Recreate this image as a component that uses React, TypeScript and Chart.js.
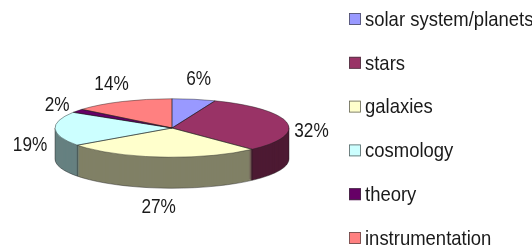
import React, { useEffect, useRef } from "react";
import { Chart, registerables } from "chart.js";

Chart.register(...registerables);

// ---- data ----
const categories = ["solar system/planets", "stars", "galaxies", "cosmology", "theory", "instrumentation"];
const shares = [6, 32, 27, 19, 2, 14];
const percentLabels = ["6%", "32%", "27%", "19%", "2%", "14%"];
const topColors = ["#9999FF", "#993366", "#FFFFCC", "#CCFFFF", "#660066", "#FF8080"];
const sideColors = ["#4D4D80", "#4D1A33", "#808066", "#668080", "#330033", "#804040"];

// ---- style constants ----
const TILT = 0.25;
const DEPTH = 31;
const FONT = "'Liberation Sans', Arial, Helvetica, sans-serif";
const LABEL_SIZE = 20;
const LABEL_SX = 0.86;
const LABEL_GAP_X = 25;
const LABEL_GAP_Y = 20;
const LEGEND_X = 349;
const LEGEND_TOP = 19;
const LEGEND_STEP = 43.8;
const LEGEND_BOX = 12;
const LEGEND_SIZE = 21;
const LEGEND_SX = 0.88;

function drawText(ctx: CanvasRenderingContext2D, text: string, x: number, y: number, size: number, sx: number, align: CanvasTextAlign) {
  ctx.save();
  ctx.translate(x, y);
  ctx.scale(sx, 1);
  ctx.font = `${size}px ${FONT}`;
  ctx.textAlign = align;
  ctx.textBaseline = "middle";
  ctx.fillStyle = "#1a1a1a";
  ctx.fillText(text, 0, 0);
  ctx.restore();
}

const pie3d = {
  id: "pie3d",
  beforeDatasetsDraw(chart: any) {
    const arcs = chart.getDatasetMeta(0).data;
    if (!arcs.length) return;
    const x = arcs[0].x, y = arcs[0].y, R = arcs[0].outerRadius;
    const ctx: CanvasRenderingContext2D = chart.ctx;
    // extruded side
    for (let d = DEPTH; d >= 1; d--) {
      arcs.forEach((a: any, i: number) => {
        ctx.beginPath();
        ctx.moveTo(x, y + d);
        ctx.ellipse(x, y + d, R, R * TILT, 0, a.startAngle, a.endAngle);
        ctx.closePath();
        ctx.fillStyle = sideColors[i];
        ctx.fill();
      });
    }
    // side outlines
    ctx.save();
    ctx.strokeStyle = "rgba(30,30,30,0.55)";
    ctx.lineWidth = 0.8;
    ctx.beginPath();
    ctx.ellipse(x, y + DEPTH, R, R * TILT, 0, 0, Math.PI);
    ctx.moveTo(x + R, y);
    ctx.lineTo(x + R, y + DEPTH);
    ctx.moveTo(x - R, y);
    ctx.lineTo(x - R, y + DEPTH);
    arcs.forEach((a: any) => {
      const ang = a.startAngle;
      if (Math.sin(ang) > 0) {
        const px = x + R * Math.cos(ang);
        const py = y + R * TILT * Math.sin(ang);
        ctx.moveTo(px, py);
        ctx.lineTo(px, py + DEPTH);
      }
    });
    ctx.stroke();
    ctx.restore();
    // squash top face
    ctx.save();
    ctx.translate(x, y);
    ctx.scale(1, TILT);
    ctx.translate(-x, -y);
  },
  afterDatasetsDraw(chart: any) {
    const ctx: CanvasRenderingContext2D = chart.ctx;
    ctx.restore();
    const arcs = chart.getDatasetMeta(0).data;
    if (!arcs.length) return;
    const x = arcs[0].x, y = arcs[0].y, R = arcs[0].outerRadius;
    ctx.save();
    ctx.strokeStyle = "rgba(30,30,30,0.55)";
    ctx.lineWidth = 0.8;
    arcs.forEach((a: any) => {
      ctx.beginPath();
      ctx.moveTo(x, y);
      ctx.ellipse(x, y, R, R * TILT, 0, a.startAngle, a.endAngle);
      ctx.closePath();
      ctx.stroke();
    });
    ctx.restore();
    // percentage labels
    arcs.forEach((a: any, i: number) => {
      const mid = (a.startAngle + a.endAngle) / 2;
      const lx = x + Math.cos(mid) * (R + LABEL_GAP_X);
      const ly = y + DEPTH / 2 + Math.sin(mid) * (R * TILT + DEPTH / 2 + LABEL_GAP_Y);
      drawText(ctx, percentLabels[i], lx, ly, LABEL_SIZE, LABEL_SX, "center");
    });
    // legend
    categories.forEach((c, i) => {
      const cy = LEGEND_TOP + i * LEGEND_STEP;
      ctx.fillStyle = topColors[i];
      ctx.fillRect(LEGEND_X, cy - LEGEND_BOX / 2, LEGEND_BOX, LEGEND_BOX);
      ctx.strokeStyle = "rgba(60,60,60,0.8)";
      ctx.lineWidth = 0.8;
      ctx.strokeRect(LEGEND_X + 0.5, cy - LEGEND_BOX / 2 + 0.5, LEGEND_BOX - 1, LEGEND_BOX - 1);
      drawText(ctx, c, LEGEND_X + LEGEND_BOX + 4, cy + 1, LEGEND_SIZE, LEGEND_SX, "left");
    });
  },
};

export default function App() {
  const ref = useRef<HTMLCanvasElement>(null);
  useEffect(() => {
    if (!ref.current) return;
    const chart = new Chart(ref.current, {
      type: "pie",
      data: {
        labels: categories,
        datasets: [{ data: shares, backgroundColor: topColors, borderWidth: 0 }],
      },
      options: {
        responsive: true,
        maintainAspectRatio: false,
        animation: false,
        events: [],
        layout: { padding: { left: 55, right: 243, top: 11, bottom: 1 } },
        plugins: { legend: { display: false }, tooltip: { enabled: false } },
      },
      plugins: [pie3d],
    });
    return () => chart.destroy();
  }, []);
  return (
    <div style={{ position: "fixed", left: 0, top: 0, width: 532, height: 246, background: "#fff" }}>
      <canvas ref={ref} />
    </div>
  );
}
